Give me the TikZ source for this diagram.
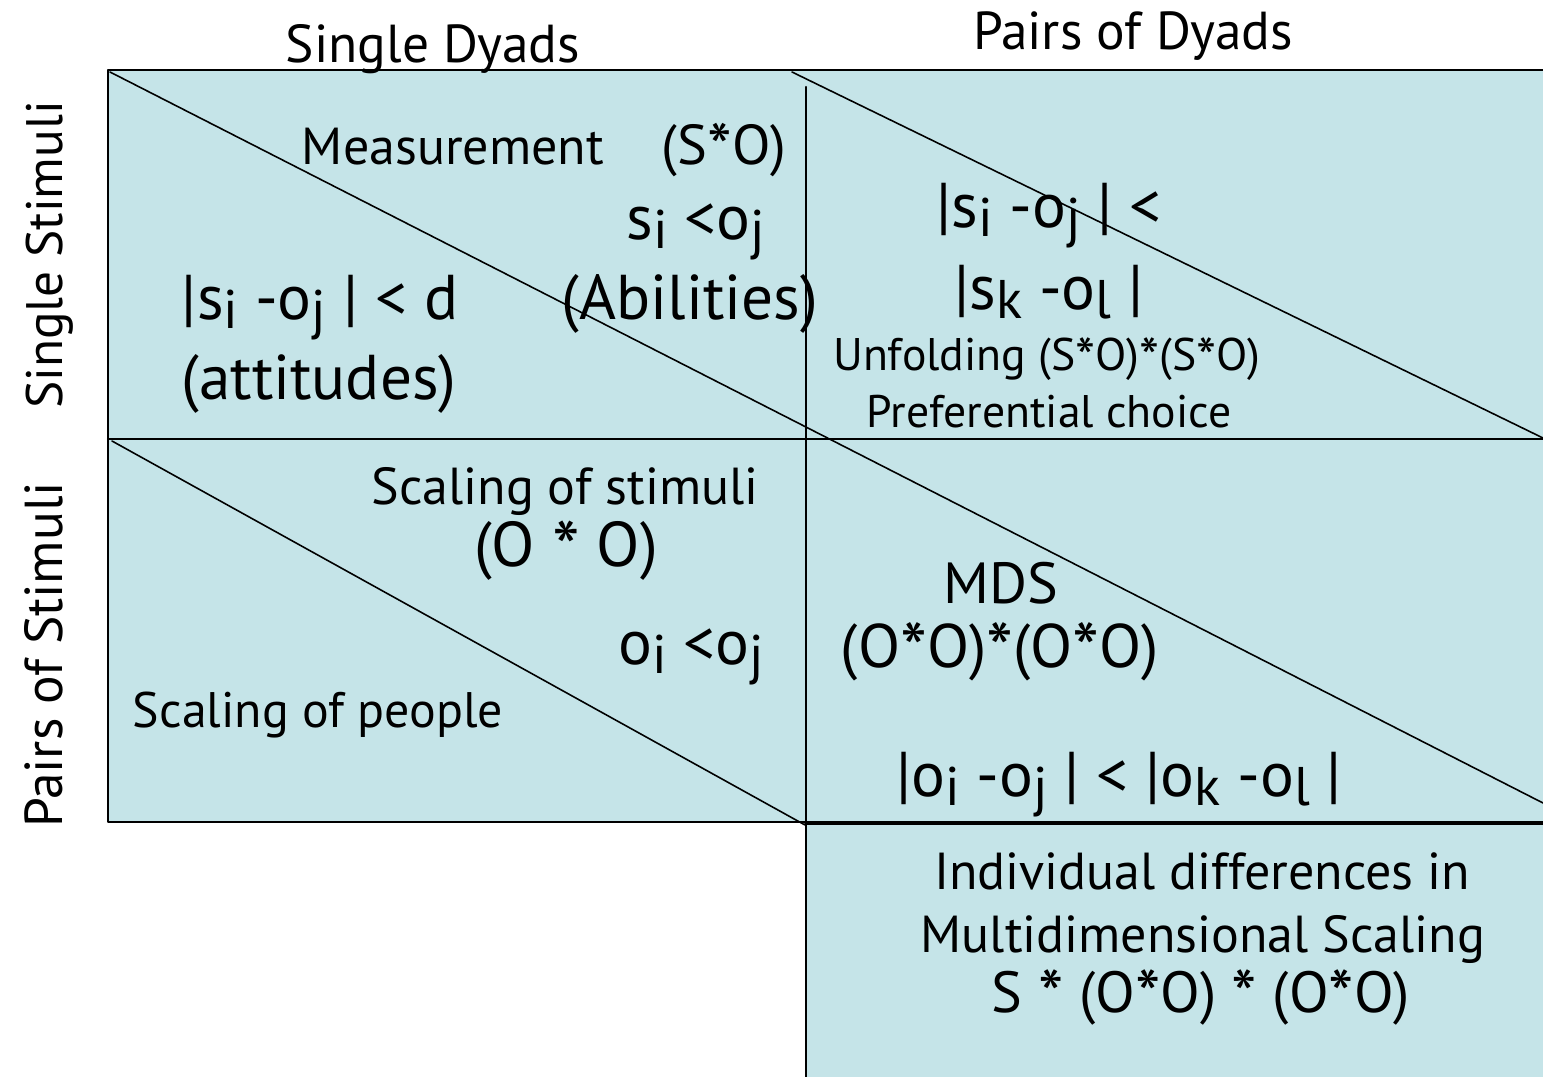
\documentclass[tikz,border=0pt]{standalone}
\usepackage{fontspec}
\setmainfont{PT Sans}
\definecolor{cellblue}{RGB}{197,228,232}
\tikzset{
  frame/.style={line width=0.6pt},
  diag/.style={line width=0.45pt},
  hd/.style={anchor=base,inner sep=0pt,font=\fontsize{15.2}{17}\selectfont},
  md/.style={anchor=base,inner sep=0pt,font=\fontsize{14.8}{17}\selectfont},
  lg/.style={anchor=base,inner sep=0pt,font=\fontsize{18}{20}\selectfont},
  sm/.style={anchor=base,inner sep=0pt,font=\fontsize{13}{15}\selectfont},
}
\newcommand{\sub}[1]{\raisebox{-0.14em}{\scalebox{0.86}{#1}}}
\newcommand{\mul}{\raisebox{-0.16em}{\scalebox{1.25}{*}}}
\begin{document}
\begin{tikzpicture}[x=1cm,y=-1cm,line cap=round,line join=round]
  \useasboundingbox (0,0) rectangle (15.43,10.77);
  % cells
  \fill[cellblue] (1.08,0.70) rectangle (15.43,8.22);
  \fill[cellblue] (8.06,8.22) rectangle (15.43,10.77);
  % frame and grid
  \draw[frame] (15.5,0.70) -- (1.08,0.70) -- (1.08,8.22) -- (8.06,8.22);
  \draw[frame] (1.08,4.39) -- (15.5,4.39);
  \draw[frame] (8.06,0.87) -- (8.06,10.8);
  \draw[line width=1pt] (8.06,8.23) -- (15.5,8.23);
  % diagonals
  \draw[diag] (1.10,0.72) -- (15.43,8.03);
  \draw[diag] (7.92,0.72) -- (15.43,4.38);
  \draw[diag] (1.12,4.41) -- (8.05,8.25);
  % headings
  \node[hd] (sdyad) at (4.33,0.63) {Single Dyads};
  \node[hd] (pdyad) at (11.33,0.50) {Pairs of Dyads};
  \node[hd,rotate=90,font=\fontsize{14.6}{16}\selectfont] (sstim) at (0.62,2.55) {Single Stimuli};
  \node[hd,rotate=90] (pstim) at (0.62,6.55) {Pairs of Stimuli};
  % single stimuli, single dyads
  \node[md] (meas) at (4.53,1.65) {Measurement};
  \node[md,font=\fontsize{16}{18}\selectfont] (meas-so) at (7.24,1.65) {(S\mul O)};
  \node[lg] (abil-rel) at (6.96,2.40) {s\sub{i} <o\sub{j}};
  \node[lg] (abil) at (6.90,3.20) {(Abilities)};
  \node[lg] (att-rel) at (3.20,3.20) {|s\sub{i} -o\sub{j} | < d};
  \node[lg] (att) at (3.19,4.00) {(attitudes)};
  % single stimuli, pairs of dyads
  \node[lg] (unf-rel1) at (10.49,2.28) {|s\sub{i} -o\sub{j} | <};
  \node[lg] (unf-rel2) at (10.49,3.10) {|s\sub{k} -o\sub{l} |};
  \node[sm] (unf) at (10.47,3.71) {Unfolding (S\mul O)\mul(S\mul O)};
  \node[sm] (pref) at (10.49,4.28) {Preferential choice};
  % pairs of stimuli, single dyads
  \node[md] (sstim-sc) at (5.65,5.05) {Scaling of stimuli};
  \node[lg] (oo) at (5.66,5.67) {(O \mul\ O)};
  \node[lg] (oo-rel) at (6.91,6.65) {o\sub{i} <o\sub{j}};
  \node[md,font=\fontsize{14.2}{16}\selectfont] (people) at (3.18,7.28) {Scaling of people};
  % pairs of stimuli, pairs of dyads
  \node[md,font=\fontsize{16.5}{18}\selectfont] (mds) at (10.01,6.04) {MDS};
  \node[lg,font=\fontsize{17.5}{20}\selectfont] (mds-oo) at (10.00,6.68) {(O\mul O)\mul(O\mul O)};
  \node[lg] (mds-rel) at (11.19,7.97) {|o\sub{i} -o\sub{j} | < |o\sub{k} -o\sub{l} |};
  % individual differences
  \node[md] (indiv1) at (12.02,8.90) {Individual differences in};
  \node[md] (indiv2) at (12.03,9.52) {Multidimensional Scaling};
  \node[md,font=\fontsize{16.5}{18}\selectfont] (indiv3) at (12.01,10.12) {S \mul\ (O\mul O) \mul\ (O\mul O)};
\end{tikzpicture}
\end{document}
